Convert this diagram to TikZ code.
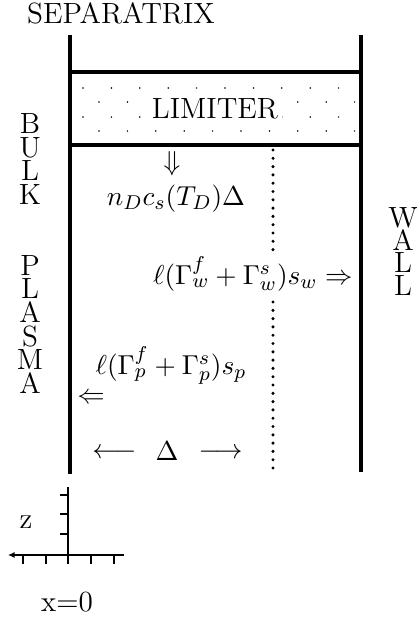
\documentclass[tikz,border=0pt]{standalone}
\usepackage{amsmath,amssymb}
\usetikzlibrary{arrows.meta}

\begin{document}
\begin{tikzpicture}[x=0.4pt,y=-0.4pt,font=\fontsize{11}{13}\selectfont,
  >={Latex[length=2.6pt,width=2.4pt]},
  wall/.style={line width=1.6pt},
  axis/.style={line width=1pt},
  lbl/.style={inner sep=0pt},
  txt/.style={inner sep=0pt,font=\fontsize{11.7}{14}\selectfont}]
\useasboundingbox (0,0) rectangle (416,620);
\coordinate (TL) at (70,35); \coordinate (BL) at (70,474);
\coordinate (TR) at (361,35); \coordinate (BR) at (361,472);
\coordinate (LT1) at (70,72); \coordinate (LT2) at (361,72);
\coordinate (LB1) at (70,145); \coordinate (LB2) at (361,145);
% stipple of the limiter
\foreach \y/\xs in {88/83,102/99,117/83,131/99}
  \foreach \k in {0,...,9}
    \fill (\xs+28.4*\k,\y) circle (0.85);
\node[txt,fill=white,inner sep=1.5pt] (lim) at (215,109) {LIMITER};
\draw[wall] (TL) -- (BL);
\draw[wall] (TR) -- (BR);
\draw[wall] (LT1) -- (LT2);
\draw[wall] (LB1) -- (LB2);
% layer edge
\foreach \y in {150,158.3,...,256} \fill (273,\y) circle (1.7);
\foreach \y in {302,310.3,...,474} \fill (273,\y) circle (1.7);
\node[txt] (sep) at (121,13) {SEPARATRIX};
\node[txt,align=center,anchor=north,font=\fontsize{11.7}{9.45}\selectfont] (bulk) at (30,113)
  {B\\U\\L\\K\\[18.9pt]P\\L\\A\\S\\M\\A};
\node[txt,align=center,anchor=north,font=\fontsize{11.7}{9.1}\selectfont] (wall) at (403,207)
  {W\\A\\L\\L};
\node[lbl] (down) at (172,164) {$\Downarrow$};
\node[lbl,anchor=base] (nD) at (176,205) {$n_D c_s(T_D)\Delta$};
\node[lbl,anchor=base east] (outw) at (353,284) {$\ell(\Gamma^f_w+\Gamma^s_w)s_w \Rightarrow$};
\node[lbl,anchor=base] (inp) at (171,374) {$\ell(\Gamma^f_p+\Gamma^s_p)s_p$};
\node[lbl] (back) at (91,398) {$\Leftarrow$};
\node[lbl,anchor=base] (dlt) at (167,460) {$\Delta$};
\node[lbl,anchor=east] (larr) at (137,453) {$\longleftarrow$};
\node[lbl,anchor=west] (rarr) at (198,453) {$\longrightarrow$};
% axes
\coordinate (O) at (68,555);
\draw[axis] (68,487) -- (68,564);
\draw[axis,->] (124,555) -- (8,555);
\foreach \y in {495,514,534} \draw[axis] (60,\y) -- (68,\y);
\foreach \x in {23,46,91,114} \draw[axis] (\x,555) -- (\x,564);
\node[txt] (z) at (26,522) {z};
\node[txt] (x0) at (67,602) {x=0};
\end{tikzpicture}
\end{document}
